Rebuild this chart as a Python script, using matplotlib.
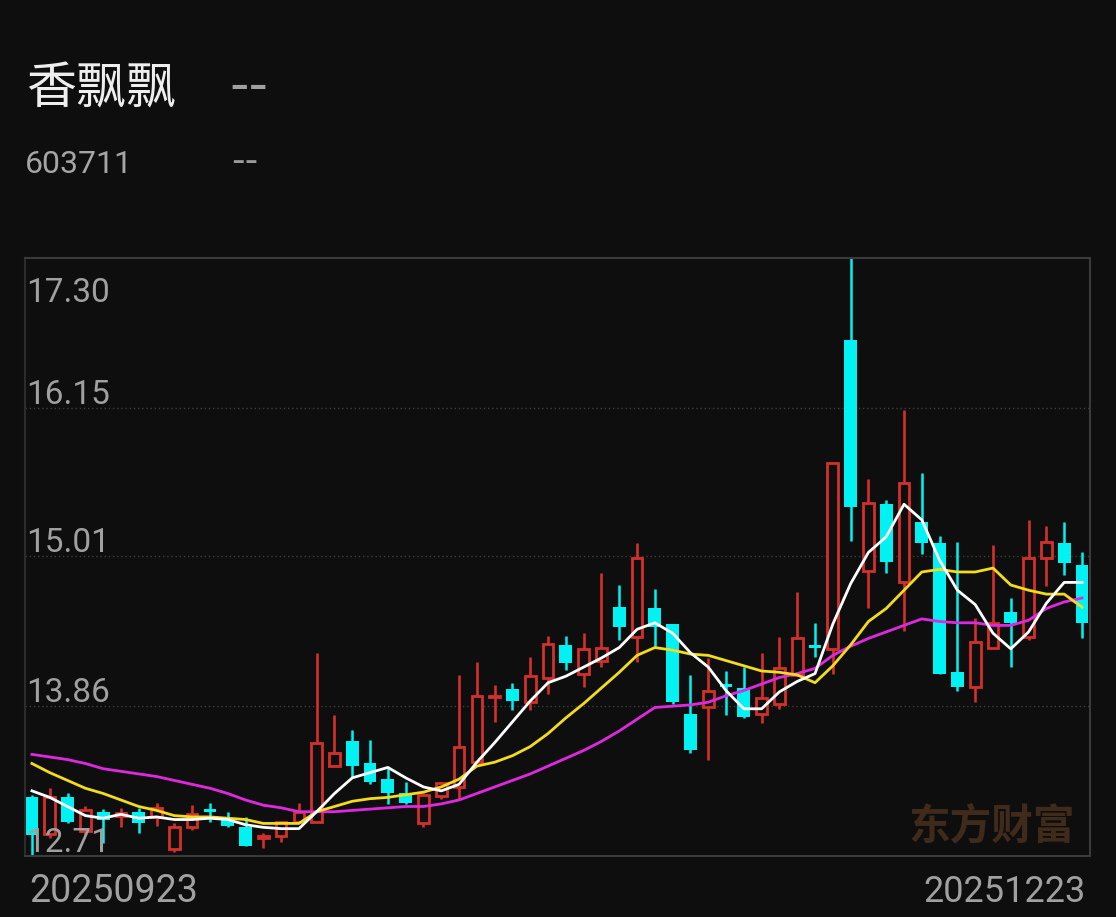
import matplotlib
matplotlib.use("Agg")
import matplotlib.pyplot as plt
import numpy as np

# daily candles 20250923 .. 20251223
opens = [13.16, 12.88, 13.16, 12.90, 13.05, 13.02, 13.05, 13.01, 12.76, 12.93,
         13.07, 13.00, 12.93, 12.85, 12.86, 12.97, 12.97, 13.40, 13.59, 13.42,
         13.30, 13.19, 12.96, 13.17, 13.24, 13.43, 13.93, 13.99, 13.89, 14.08,
         14.33, 14.11, 14.21, 14.62, 14.39, 14.61, 14.49, 13.80, 13.85, 14.02,
         14.00, 13.80, 13.88, 14.10, 14.33, 14.30, 16.67, 14.90, 15.41, 14.81,
         15.27, 15.11, 14.12, 14.01, 14.31, 14.58, 14.39, 15.00, 15.11, 14.94]
highs = [13.18, 13.23, 13.19, 13.09, 13.07, 13.08, 13.08, 13.12, 12.96, 13.10,
         13.12, 13.05, 13.01, 12.89, 12.97, 13.12, 14.27, 13.79, 13.68, 13.60,
         13.39, 13.28, 13.19, 13.28, 14.10, 14.20, 14.02, 14.04, 14.24, 14.40,
         14.40, 14.42, 14.88, 14.79, 15.11, 14.76, 14.49, 14.10, 14.23, 14.13,
         14.16, 14.27, 14.39, 14.74, 14.50, 15.73, 17.30, 15.60, 15.44, 16.13,
         15.65, 15.17, 15.12, 14.54, 15.10, 14.69, 15.29, 15.24, 15.27, 15.04]
lows = [12.71, 12.85, 12.96, 12.87, 12.81, 12.93, 12.89, 12.94, 12.74, 12.91,
        12.97, 12.93, 12.79, 12.77, 12.82, 12.97, 12.97, 13.40, 13.32, 13.26,
        13.11, 13.11, 12.93, 13.15, 13.15, 13.43, 13.74, 13.83, 13.83, 13.95,
        14.14, 14.01, 14.16, 14.37, 14.20, 14.31, 13.88, 13.50, 13.45, 13.79,
        13.77, 13.73, 13.84, 14.10, 14.24, 14.11, 15.13, 14.61, 14.88, 14.44,
        15.03, 14.11, 13.98, 13.89, 14.30, 14.16, 14.37, 14.78, 14.87, 14.38]
closes = [12.87, 13.16, 12.97, 13.06, 12.99, 13.04, 12.96, 13.08, 12.93, 13.03,
          13.05, 12.94, 12.79, 12.86, 12.97, 13.05, 13.58, 13.50, 13.40, 13.28,
          13.19, 13.12, 13.18, 13.27, 13.55, 13.94, 13.94, 13.90, 14.09, 14.34,
          14.19, 14.30, 14.31, 14.47, 15.00, 14.47, 13.89, 13.52, 13.98, 14.01,
          13.78, 13.92, 14.15, 14.38, 14.31, 15.73, 15.39, 15.42, 14.97, 15.57,
          15.11, 14.11, 14.01, 14.35, 14.50, 14.50, 15.00, 15.12, 14.96, 14.50]

# moving averages as shown
ma5 = [13.21, 13.16, 13.09, 13.02, 13.00, 13.03, 13.00, 13.01, 12.99, 12.99,
       13.00, 12.99, 12.95, 12.93, 12.92, 12.92, 13.05, 13.19, 13.31, 13.35,
       13.39, 13.31, 13.24, 13.21, 13.26, 13.43, 13.58, 13.74, 13.90, 14.04,
       14.09, 14.16, 14.23, 14.31, 14.45, 14.50, 14.42, 14.27, 14.16, 13.98,
       13.84, 13.84, 13.97, 14.05, 14.11, 14.49, 14.80, 15.04, 15.16, 15.41,
       15.29, 14.98, 14.75, 14.64, 14.42, 14.30, 14.43, 14.65, 14.81, 14.81]
ma10 = [13.42, 13.35, 13.29, 13.23, 13.19, 13.14, 13.09, 13.06, 13.02, 13.01,
        13.01, 13.00, 12.99, 12.96, 12.96, 12.96, 13.05, 13.09, 13.13, 13.15,
        13.16, 13.18, 13.20, 13.24, 13.30, 13.40, 13.43, 13.48, 13.55, 13.65,
        13.77, 13.88, 14.00, 14.12, 14.25, 14.31, 14.29, 14.26, 14.25, 14.21,
        14.17, 14.13, 14.12, 14.10, 14.04, 14.17, 14.33, 14.51, 14.61, 14.75,
        14.89, 14.91, 14.89, 14.89, 14.92, 14.79, 14.75, 14.72, 14.72, 14.62]
ma20 = [13.49, 13.47, 13.45, 13.42, 13.38, 13.36, 13.34, 13.32, 13.29, 13.26,
        13.23, 13.19, 13.14, 13.10, 13.08, 13.05, 13.05, 13.05, 13.06, 13.07,
        13.08, 13.09, 13.09, 13.11, 13.14, 13.19, 13.24, 13.29, 13.34, 13.40,
        13.46, 13.52, 13.59, 13.67, 13.76, 13.85, 13.86, 13.87, 13.89, 13.94,
        13.98, 14.03, 14.08, 14.11, 14.15, 14.25, 14.32, 14.38, 14.43, 14.48,
        14.53, 14.51, 14.50, 14.50, 14.48, 14.48, 14.52, 14.61, 14.66, 14.69]

price_ticks = [17.30, 16.15, 15.01, 13.86, 12.71]
date_labels = ["20250923", "20251223"]
stock_name = "香飘飘"
stock_code = "603711"

BG = "#0e0e0e"
RED = "#d3302b"
CYAN = "#00f2f2"

plt.rcParams['font.family'] = ['Roboto', 'Noto Sans CJK SC', 'DejaVu Sans']

W, H = 1116, 917
fig = plt.figure(figsize=(W / 100, H / 100), dpi=100, facecolor=BG)
ax = fig.add_axes([25 / W, 1 - 856 / H, (1090 - 25) / W, (856 - 258) / H])
ax.set_facecolor(BG)

o = np.array(opens)
h = np.array(highs)
l = np.array(lows)
c = np.array(closes)
x = np.arange(len(c))
up = c >= o

# wicks
for i in x:
    if up[i]:
        ax.vlines(i, max(o[i], c[i]), h[i], color=RED, lw=1.9, zorder=2)
        ax.vlines(i, l[i], min(o[i], c[i]), color=RED, lw=1.9, zorder=2)
    else:
        ax.vlines(i, l[i], h[i], color=CYAN, lw=1.8, zorder=2)

# bodies
ax.bar(x[up], np.maximum(c - o, 0.008)[up], bottom=o[up], width=0.6,
       facecolor=BG, edgecolor=RED, linewidth=2.0, zorder=3)
ax.bar(x[~up], np.maximum(o - c, 0.02)[~up], bottom=c[~up], width=0.72,
       color=CYAN, linewidth=0, zorder=3)

ax.plot(x, ma20, color="#e028e0", lw=2.0, zorder=4)
ax.plot(x, ma10, color="#f2dc1c", lw=2.0, zorder=4)
ax.plot(x, ma5, color="#ffffff", lw=2.0, zorder=5)

ax.set_xlim(-0.39, len(c) - 1 + 0.45)
ax.set_ylim(price_ticks[-1], price_ticks[0])
ax.set_xticks([])
ax.set_yticks([])
for s in ax.spines.values():
    s.set_color("#3a3a3a")
    s.set_linewidth(1.5)
ax.spines['left'].set_color("#2c2c2c")

for v in price_ticks[1:-1]:
    ax.axhline(v, color="#3e3e3e", lw=1, ls=(0, (1, 2)), zorder=1)

# price labels inside the plot
for v in price_ticks:
    dy = -44 if v == price_ticks[0] else 4
    ax.annotate(f"{v:.2f}", xy=(0, v), xycoords=('axes fraction', 'data'),
                xytext=(1, dy), textcoords='offset pixels', va='baseline',
                ha='left', fontsize=24, color="#a0a0a0", zorder=6)

fig.text(29 / W, 1 - 902 / H, date_labels[0], fontsize=27, color="#a0a0a0",
         ha='left', va='baseline')
fig.text(1086 / W, 1 - 902 / H, date_labels[1], fontsize=26, color="#a0a0a0",
         ha='right', va='baseline')

# header
fig.text(26 / W, 1 - 103 / H, stock_name, fontsize=36, color="#eeeeee",
         family='Noto Sans CJK SC', va='baseline', ha='left')
fig.text(229 / W, 1 - 102 / H, "--", fontsize=39, color="#a0a0a0",
         family='DejaVu Sans', va='baseline', ha='left')
fig.text(25 / W, 1 - 173 / H, stock_code, fontsize=23, color="#a5a5a5",
         va='baseline', ha='left')
fig.text(231 / W, 1 - 172 / H, "--", fontsize=27, color="#9a9a9a",
         family='DejaVu Sans', va='baseline', ha='left')

# watermark
ax.text(0.986, 0.03, "东方财富", transform=ax.transAxes, fontsize=30,
        family='Noto Sans CJK SC', weight='bold', color="#402b1b",
        ha='right', va='baseline', zorder=1)

fig.savefig("out.png", dpi=100, facecolor=BG)
